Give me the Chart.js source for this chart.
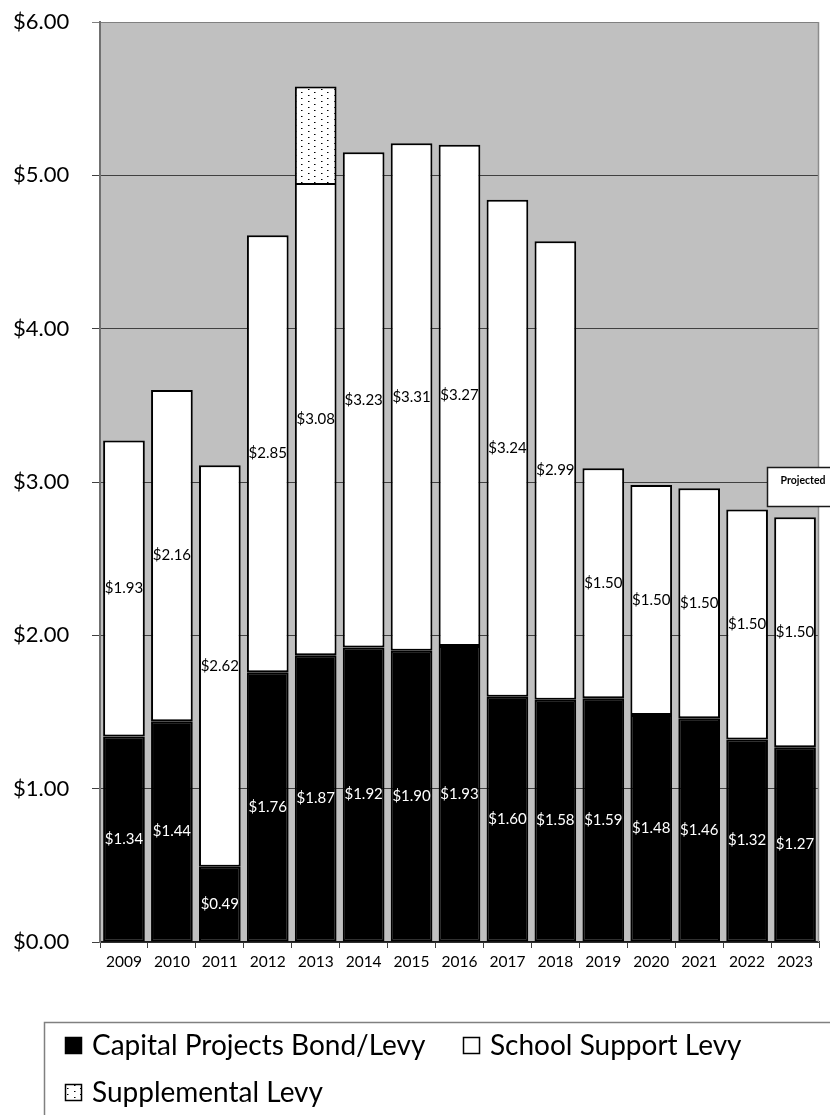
<!DOCTYPE html>
<html><head><meta charset="utf-8">
<script src="https://cdn.jsdelivr.net/npm/chart.js@4.4.1/dist/chart.umd.min.js"></script>
<style>html,body{margin:0;padding:0;background:#fff;} #wrap{width:830px;height:1115px;position:relative;}</style>
</head><body><div id="wrap"><canvas id="c" width="830" height="1115"></canvas></div>
<script>
const years = ['2009','2010','2011','2012','2013','2014','2015','2016','2017','2018','2019','2020','2021','2022','2023'];
const capitalProjects = [1.34,1.44,0.49,1.76,1.87,1.92,1.90,1.93,1.60,1.58,1.59,1.48,1.46,1.32,1.27];
const schoolSupport = [1.93,2.16,2.62,2.85,3.08,3.23,3.31,3.27,3.24,2.99,1.50,1.50,1.50,1.50,1.50];
const supplemental = [null,null,null,null,0.63,null,null,null,null,null,null,null,null,null,null];
const seriesNames = ['Capital Projects Bond/Levy','School Support Levy','Supplemental Levy'];
const yMin = 0, yMax = 6, yStep = 1;
const projectedNote = 'Projected';

const FONT = 'Lato, "Open Sans", sans-serif';
Chart.defaults.font.family = FONT;
Chart.defaults.color = '#000';

function makeDots(){
  const t = document.createElement('canvas'); t.width = 13; t.height = 12;
  const g = t.getContext('2d');
  g.fillStyle = '#fff'; g.fillRect(0,0,13,12);
  g.fillStyle = '#000';
  [[2,2],[2,8],[9,5],[9,11]].forEach(p => g.fillRect(p[0],p[1],1,1));
  g.fillStyle = 'rgba(0,0,0,0.5)';
  [[3,2],[3,8],[10,5],[10,11]].forEach(p => g.fillRect(p[0],p[1],1,1));
  return g.createPattern(t,'repeat');
}
const dots = makeDots();
const fmt = v => '$' + v.toFixed(2);

const bgPlugin = {
  id:'bg',
  beforeDraw(chart){
    const {ctx, chartArea:a} = chart;
    ctx.save(); ctx.fillStyle = '#c0c0c0';
    ctx.fillRect(a.left, a.top, a.right-a.left, a.bottom-a.top);
    ctx.restore();
  },
  afterDraw(chart){
    const {ctx, chartArea:a} = chart;
    ctx.save(); ctx.strokeStyle = '#8c8c8c'; ctx.lineWidth = 1.5;
    ctx.beginPath(); ctx.moveTo(a.right-0.5, a.top); ctx.lineTo(a.right-0.5, a.bottom); ctx.stroke();
    ctx.restore();
  }
};

const labelPlugin = {
  id:'vlabels',
  afterDatasetsDraw(chart){
    const ctx = chart.ctx;
    ctx.save();
    ctx.font = '15px ' + FONT;
    ctx.textAlign = 'center'; ctx.textBaseline = 'middle';
    [[0, capitalProjects, '#fff'], [1, schoolSupport, '#000']].forEach(([di, arr, col]) => {
      const meta = chart.getDatasetMeta(di);
      ctx.fillStyle = col;
      meta.data.forEach((bar, i) => {
        if (arr[i] == null) return;
        const p = bar.getProps(['x','y','base'], true);
        ctx.fillText(fmt(arr[i]), p.x, (p.y + p.base)/2);
      });
    });
    ctx.restore();
  }
};

const notePlugin = {
  id:'note',
  afterDraw(chart){
    const ctx = chart.ctx;
    ctx.save();
    ctx.fillStyle = '#fff'; ctx.strokeStyle = '#1a1a1a'; ctx.lineWidth = 1.5;
    ctx.fillRect(767, 467, 70, 40); ctx.strokeRect(767.5, 467.5, 70, 39);
    ctx.fillStyle = '#000'; ctx.font = 'bold 10.5px ' + FONT;
    ctx.textAlign = 'center'; ctx.textBaseline = 'middle';
    ctx.fillText(projectedNote, 803, 481);
    ctx.restore();
  }
};

const legendPlugin = {
  id:'xlegend',
  afterDraw(chart){
    const ctx = chart.ctx;
    const ds = chart.data.datasets;
    ctx.save();
    ctx.strokeStyle = '#808080'; ctx.lineWidth = 1.5;
    ctx.strokeRect(44.5, 1022.5, 800, 200);
    const items = [[65, 1045], [463, 1045], [65, 1092]];
    ctx.font = '28px ' + FONT; ctx.textBaseline = 'middle'; ctx.textAlign = 'left';
    ds.forEach((d, i) => {
      const [x, y] = items[i];
      ctx.fillStyle = d.backgroundColor;
      ctx.fillRect(x, y-8, 17, 17);
      ctx.strokeStyle = '#000'; ctx.lineWidth = 1.5;
      ctx.strokeRect(x+0.5, y-7.5, 16, 16);
      ctx.fillStyle = '#000';
      ctx.fillText(d.label, x + 27, y + 1);
    });
    ctx.restore();
  }
};

new Chart(document.getElementById('c'), {
  type:'bar',
  data:{
    labels: years,
    datasets:[
      {label: seriesNames[0], data: capitalProjects, backgroundColor:'#000', borderColor:'#000', borderWidth:2, borderSkipped:false},
      {label: seriesNames[1], data: schoolSupport, backgroundColor:'#fff', borderColor:'#000', borderWidth:2, borderSkipped:false},
      {label: seriesNames[2], data: supplemental, backgroundColor: dots, borderColor:'#000', borderWidth:2, borderSkipped:'start'}
    ]
  },
  options:{
    responsive:false, animation:false,
    layout:{padding:{top:22, right:11, bottom:133, left:13}},
    datasets:{bar:{barPercentage:0.87, categoryPercentage:1.0}},
    plugins:{legend:{display:false}, tooltip:{enabled:false}},
    scales:{
      x:{
        stacked:true,
        grid:{drawOnChartArea:false, drawTicks:true, tickLength:6, color:'#404040', offset:true},
        border:{color:'#1a1a1a', width:1.5},
        ticks:{font:{size:15.5}, color:'#000', padding:5, maxRotation:0, autoSkip:false},
        afterFit(s){ s.height = 40; }
      },
      y:{
        stacked:true, min:yMin, max:yMax,
        grid:{color: c => (c.tick && c.tick.value === yMax) ? '#808080' : '#404040', lineWidth:1, tickLength:8, drawTicks:true},
        border:{color:'#707070', width:2},
        ticks:{stepSize:yStep, font:{size:22}, color:'#000', padding:8, crossAlign:'far', callback: v => fmt(v)},
        afterFit(s){ s.width = 87; }
      }
    }
  },
  plugins:[bgPlugin, labelPlugin, notePlugin, legendPlugin]
});
</script></body></html>
